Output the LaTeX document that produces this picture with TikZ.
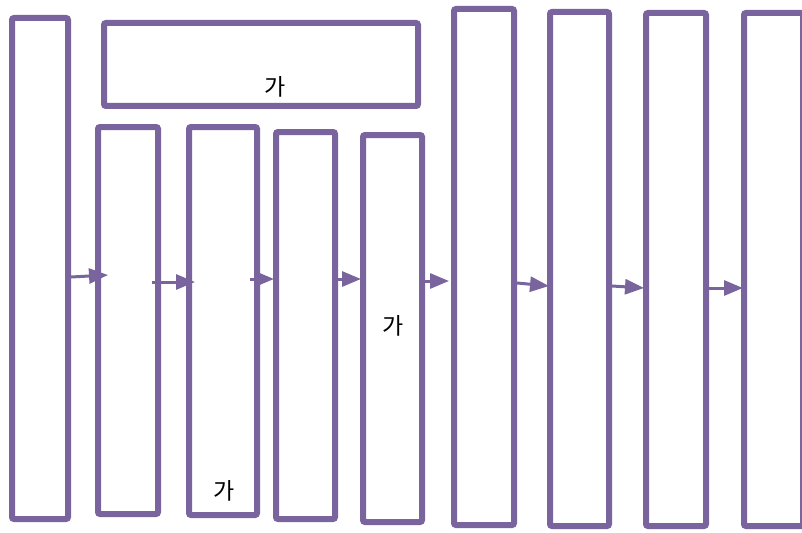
\documentclass[tikz,border=0pt]{standalone}
\usepackage{fontspec}
\newfontfamily\kr{Noto Sans CJK KR}
\usetikzlibrary{arrows.meta}
\definecolor{vio}{RGB}{122,100,158}
\begin{document}
\begin{tikzpicture}[x=1pt,y=-1pt,
  box/.style={draw=vio,line width=6pt,rounded corners=2pt,inner sep=0pt,fill=white},
  arr/.style={draw=vio,line width=3pt,-{Triangle[length=19pt,width=15pt]}},
  lbl/.style={font=\kr\fontsize{23}{25}\selectfont,inner sep=0pt}]
\useasboundingbox (0,0) rectangle (802,532);
\clip (0,0) rectangle (802,532);
\node[box,minimum width=56pt,minimum height=501pt] (A) at (40,268.5) {};
\node[box,minimum width=314pt,minimum height=83pt] (T) at (261,64.5) {};
\node[box,minimum width=60pt,minimum height=387pt] (B) at (128,320.5) {};
\node[box,minimum width=68pt,minimum height=388pt] (C) at (223,321) {};
\node[box,minimum width=59pt,minimum height=387pt] (D) at (305.5,325.5) {};
\node[box,minimum width=59pt,minimum height=387pt] (E) at (392.5,328.5) {};
\node[box,minimum width=60pt,minimum height=516pt] (F) at (484,267) {};
\node[box,minimum width=59pt,minimum height=514pt] (G) at (579.5,269) {};
\node[box,minimum width=60pt,minimum height=513pt] (H) at (676,269.5) {};
\node[box,minimum width=59pt,minimum height=513pt] (I) at (773.5,269.5) {};
\node[lbl] (tT) at (275,87) {가};
\node[lbl] (tE) at (393,326) {가};
\node[lbl] (tC) at (224,491) {가};
\coordinate (a1s) at (A.east |- 0,277); \coordinate (a1e) at (108,275);
\coordinate (a2s) at (152,282); \coordinate (a2e) at (195,282);
\coordinate (a3s) at (250,279); \coordinate (a3e) at (274,279);
\coordinate (a4s) at (D.east |- 0,279); \coordinate (a4e) at (361,279);
\coordinate (a5s) at (E.east |- 0,281); \coordinate (a5e) at (449,281);
\coordinate (a6s) at (F.east |- 0,283); \coordinate (a6e) at (549,286);
\coordinate (a7s) at (G.east |- 0,286); \coordinate (a7e) at (644,288);
\coordinate (a8s) at (H.east |- 0,288); \coordinate (a8e) at (743,288);
\foreach \i in {1,...,8} {\draw[arr] (a\i s) -- (a\i e);}
\end{tikzpicture}
\end{document}
